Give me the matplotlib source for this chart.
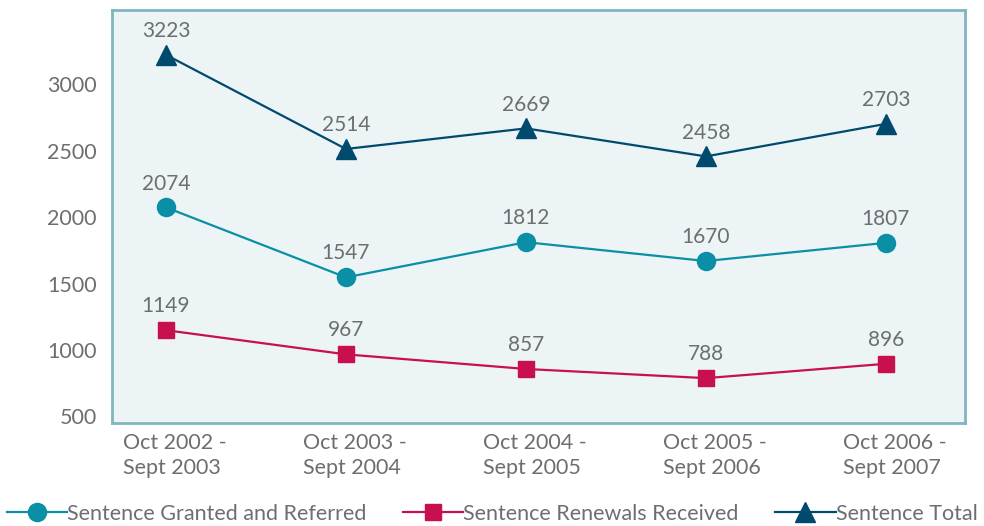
import matplotlib
matplotlib.use("Agg")
import matplotlib.pyplot as plt
import matplotlib.transforms as mtransforms

plt.rcParams['font.family'] = ['Lato', 'DejaVu Sans']

categories = ["Oct 2002 -\nSept 2003", "Oct 2003 -\nSept 2004", "Oct 2004 -\nSept 2005",
              "Oct 2005 -\nSept 2006", "Oct 2006 -\nSept 2007"]
granted = [2074, 1547, 1812, 1670, 1807]
renewals = [1149, 967, 857, 788, 896]
total = [3223, 2514, 2669, 2458, 2703]
yticks = [500, 1000, 1500, 2000, 2500, 3000]

text_color = "#6d6e71"
fig = plt.figure(figsize=(9.84, 5.26), dpi=100)
ax = fig.add_axes([0.1138, 0.1958, 0.867, 0.785])
ax.set_facecolor("#ecf4f6")
for s in ax.spines.values():
    s.set_color("#7fb6bf")
    s.set_linewidth(2)

x = list(range(len(categories)))
series = [
    (granted, "#0a8fa6", "o", 13, "Sentence Granted and Referred"),
    (renewals, "#c8104e", "s", 11.5, "Sentence Renewals Received"),
    (total, "#004a6e", "^", 14, "Sentence Total"),
]
handles = []
for vals, col, mk, ms, lab in series:
    h, = ax.plot(x, vals, color=col, marker=mk, markersize=ms, linewidth=1.6, label=lab)
    handles.append(h)
    for xi, v in zip(x, vals):
        ax.annotate(str(v), (xi, v), xytext=(0, 10), textcoords="offset points",
                    ha="center", va="bottom", fontsize=15, color=text_color)

ax.set_xlim(-0.3, 4.44)
ax.set_ylim(450, 3560)
ax.set_yticks(yticks)
ax.set_yticklabels([str(t) for t in yticks])
ax.set_xticks(x)
ax.set_xticklabels(categories, multialignment="left")
ax.tick_params(axis="y", length=0, pad=11, labelsize=15.5, labelcolor=text_color)
ax.tick_params(axis="x", length=0, pad=7, labelsize=15.5, labelcolor=text_color)
shift = mtransforms.ScaledTranslation(9 / 100, 0, fig.dpi_scale_trans)
for lbl in ax.get_xticklabels():
    lbl.set_linespacing(1.3)
    lbl.set_transform(lbl.get_transform() + shift)

fig.legend(handles=handles, loc="lower center", bbox_to_anchor=(0.5, -0.012), ncol=3,
           frameon=False, fontsize=15.5, labelcolor=text_color, handlelength=2.8,
           handletextpad=0.0, columnspacing=1.7, borderaxespad=0)

fig.savefig("out.png", dpi=100)
